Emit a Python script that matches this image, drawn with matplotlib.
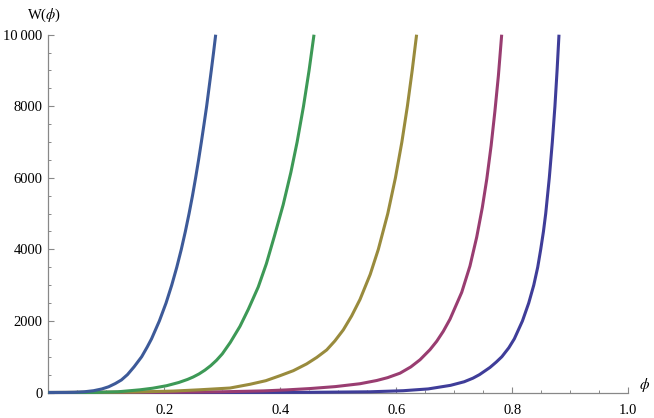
import colorsys
import matplotlib
matplotlib.use("Agg")
import matplotlib.pyplot as plt
from matplotlib.ticker import MultipleLocator, FixedLocator

# ---- data (phi, W) ----
x1 = [0.0, 0.03, 0.045, 0.062, 0.078, 0.0925, 0.104, 0.1155, 0.126, 0.1365, 0.148, 0.161,
      0.1705, 0.178, 0.1915, 0.203, 0.2128, 0.2215, 0.2293, 0.2363, 0.2427, 0.2486,
      0.254, 0.2591, 0.2639, 0.2685, 0.273, 0.277, 0.281, 0.2849, 0.2886]
y1 = [0, 1, 5, 20, 50, 100, 160, 250, 350, 500, 720, 1000,
      1270, 1500, 2000, 2500, 3000, 3500, 4000, 4500, 5000, 5500,
      6000, 6500, 7000, 7500, 8000, 8500, 9000, 9500, 10000]

x2 = [0.0, 0.08, 0.12, 0.158, 0.18, 0.204, 0.225, 0.24, 0.25, 0.26, 0.27, 0.28, 0.29,
      0.30, 0.3138, 0.3305, 0.345, 0.362, 0.376, 0.390, 0.405, 0.4182, 0.429, 0.440,
      0.4496, 0.4581]
y2 = [0, 2, 20, 75, 120, 190, 280, 365, 435, 520, 625, 750, 900,
      1080, 1400, 1850, 2330, 2950, 3600, 4380, 5250, 6150, 7000, 8000,
      9000, 10000]

x3 = [0.0, 0.10, 0.15, 0.2155, 0.26, 0.3133, 0.3478, 0.375, 0.3995, 0.4225, 0.4455,
      0.4628, 0.480, 0.494, 0.5086, 0.523, 0.5374, 0.555, 0.569, 0.5853, 0.5985,
      0.6096, 0.6191, 0.6274, 0.635]
y3 = [0, 6, 14, 40, 75, 125, 230, 330, 470, 610, 800,
      980, 1190, 1440, 1750, 2140, 2600, 3300, 4000, 5000, 6000,
      7000, 8000, 9000, 10000]

x4 = [0.0, 0.20, 0.30, 0.371, 0.41, 0.451, 0.495, 0.5374, 0.5662, 0.585, 0.6064, 0.625,
      0.6409, 0.658, 0.6696, 0.681, 0.6926, 0.7128, 0.727, 0.7386, 0.7483, 0.756,
      0.7635, 0.770, 0.776, 0.7817]
y4 = [0, 8, 20, 45, 72, 110, 165, 245, 335, 415, 540, 715,
      915, 1196, 1430, 1710, 2050, 2800, 3535, 4340, 5170, 5965,
      6900, 7860, 8850, 10000]

x5 = [0.0, 0.30, 0.45, 0.555, 0.612, 0.655, 0.6935, 0.717, 0.7321, 0.7435, 0.7615,
      0.7723, 0.782, 0.794, 0.8035, 0.8175, 0.8283, 0.837, 0.8438, 0.849, 0.8537,
      0.8576, 0.8638, 0.869, 0.8735, 0.8772, 0.8805]
y5 = [0, 1, 5, 20, 50, 100, 200, 300, 400, 500, 700,
      850, 1000, 1250, 1500, 2000, 2500, 3000, 3500, 4000, 4500,
      5000, 6000, 7000, 8000, 9000, 10000]

xticks = [0.2, 0.4, 0.6, 0.8, 1.0]
xtick_labels = ["0.2", "0.4", "0.6", "0.8", "1.0"]
yticks = [0, 2000, 4000, 6000, 8000, 10000]
ytick_labels = ["0", "2000", "4000", "6000", "8000", "10\u2009000"]

hues = [0.67, 0.906068, 0.1421, 0.3782, 0.6142]
colors = [colorsys.hsv_to_rgb(h, 0.6, 0.6) for h in hues]

plt.rcParams['font.family'] = ['Liberation Serif', 'DejaVu Serif']
plt.rcParams['mathtext.fontset'] = 'stix'

fig = plt.figure(figsize=(6.54, 4.18), dpi=100)
ax = fig.add_axes([48.3 / 654, 25.5 / 418, 580 / 654, 357.8 / 418])

series = [(x5, y5), (x4, y4), (x3, y3), (x2, y2), (x1, y1)]
for (xs, ys), c in zip(series, colors):
    ax.plot(xs, ys, color=c, lw=2.2, clip_on=False, solid_capstyle='butt',
            solid_joinstyle='round', zorder=3)

ax.set_xlim(0, 1.0)
ax.set_ylim(0, 10000)
for s in ['top', 'right']:
    ax.spines[s].set_visible(False)
for s in ['left', 'bottom']:
    ax.spines[s].set_color('#888888')
    ax.spines[s].set_linewidth(0.9)

ax.xaxis.set_major_locator(FixedLocator(xticks))
ax.set_xticklabels(xtick_labels)
ax.xaxis.set_minor_locator(MultipleLocator(0.05))
ax.yaxis.set_major_locator(FixedLocator(yticks))
ax.set_yticklabels(ytick_labels)
ax.yaxis.set_minor_locator(MultipleLocator(500))

ax.tick_params(which='both', direction='in', color='#888888', labelsize=10.5, labelcolor='black')
ax.tick_params(which='major', length=4.5, width=0.8, pad=8)
ax.tick_params(which='minor', length=2.5, width=0.7)
ax.tick_params(axis='y', which='major', pad=4)

ax.text(-0.008, 1.03, r"W($\phi$)", transform=ax.transAxes, ha='center', va='bottom', fontsize=10.5)
ax.text(1.028, 0.02, r"$\phi$", transform=ax.transAxes, ha='center', va='center', fontsize=11)

fig.savefig("out.png", dpi=100)
